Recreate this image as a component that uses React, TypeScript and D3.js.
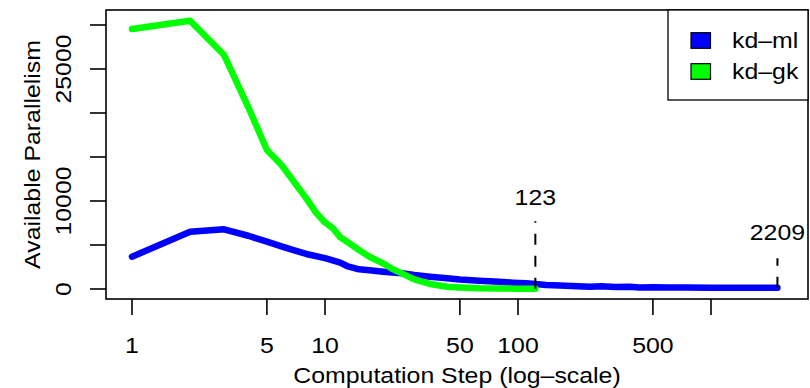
import React, { useEffect, useRef } from "react";
import * as d3 from "d3";

// kd-ml series (step, available parallelism)
const mlSteps = [1, 2, 3, 4, 5, 6, 7, 8, 10, 12, 13, 15, 17, 20, 25, 29, 35, 43, 50, 63, 80, 94, 110, 123, 140, 165, 190, 236, 270, 320, 380, 425, 500, 600, 750, 1000, 1500, 2209];
const mlValues = [3670, 6510, 6780, 6050, 5380, 4810, 4350, 3980, 3500, 2990, 2610, 2240, 2120, 1970, 1780, 1590, 1400, 1210, 1080, 940, 820, 720, 640, 570, 450, 400, 330, 260, 300, 220, 260, 180, 200, 170, 160, 150, 150, 150];

// kd-gk series
const gkSteps = [1, 2, 3, 4, 5, 6, 7, 8, 9, 10, 11, 12, 13, 15, 17, 20, 22, 25, 29, 35, 43, 50, 63, 80, 100, 123];
const gkValues = [29545, 30490, 26590, 20680, 15800, 14000, 12000, 10300, 8650, 7560, 6900, 5870, 5380, 4430, 3670, 2920, 2350, 1780, 1100, 570, 260, 180, 80, 50, 40, 30];

const seriesNames = ["kd\u2013ml", "kd\u2013gk"];
const seriesColors = ["#0000ff", "#00ff00"];

const xTicks = [1, 5, 10, 50, 100, 500, 1000];
const xTickLabels = ["1", "5", "10", "50", "100", "500", ""];
const yTicks = [0, 5000, 10000, 15000, 20000, 25000, 30000];
const yTickLabels = ["0", "", "10000", "", "", "25000", ""];

// end-of-run markers: step, label height, top of dashed line
const markSteps = [123, 2209];
const markLabelValues = [10400, 6500];
const markLineTops = [7700, 3500];

const App: React.FC = () => {
  const svgRef = useRef<SVGSVGElement | null>(null);

  useEffect(() => {
    const svg = d3.select(svgRef.current);
    svg.selectAll("*").remove();

    const w = 810;
    const h = 388;
    const box = { left: 106, right: 808, top: 10, bottom: 299 };
    const font = "'Liberation Sans', Arial, Helvetica, sans-serif";
    const fs = 22;
    const sx = 1.13;

    svg.attr("width", w).attr("height", h).style("background", "#fff");

    const x = d3.scaleLog().domain([1, 1000]).range([132, 711]);
    const y = d3.scaleLinear().domain([0, 30000]).range([289, 25]);

    const addText = (px: number, py: number, str: string, rot: number, anchor: string) => {
      svg
        .append("g")
        .attr("transform", `translate(${px},${py}) rotate(${rot})`)
        .append("text")
        .attr("transform", `scale(${sx},1)`)
        .attr("text-anchor", anchor)
        .style("font-family", font)
        .style("font-size", `${fs}px`)
        .attr("fill", "#000")
        .text(str);
    };

    // lines
    const line = d3
      .line<[number, number]>()
      .x(d => x(d[0]))
      .y(d => y(d[1]));

    const series: [number, number][][] = [
      mlSteps.map((s, i) => [s, mlValues[i]]),
      gkSteps.map((s, i) => [s, gkValues[i]]),
    ];

    series.forEach((pts, i) => {
      svg
        .append("path")
        .attr("d", line(pts)!)
        .attr("fill", "none")
        .attr("stroke", seriesColors[i])
        .attr("stroke-width", 6.5)
        .attr("stroke-linecap", "round")
        .attr("stroke-linejoin", "round");
    });

    // dashed markers
    const ends = [gkValues[gkValues.length - 1], mlValues[mlValues.length - 1]];
    markSteps.forEach((s, i) => {
      svg
        .append("line")
        .attr("x1", x(s))
        .attr("x2", x(s))
        .attr("y1", y(ends[i]))
        .attr("y2", y(markLineTops[i]))
        .attr("stroke", "#000")
        .attr("stroke-width", 2)
        .attr("stroke-dasharray", "11,11");
      addText(x(s), y(markLabelValues[i]) + 8, String(s), 0, "middle");
    });

    // box
    svg
      .append("rect")
      .attr("x", box.left)
      .attr("y", box.top)
      .attr("width", box.right - box.left)
      .attr("height", box.bottom - box.top)
      .attr("fill", "none")
      .attr("stroke", "#000")
      .attr("stroke-width", 1.6);

    // x axis
    const tick = 16;
    xTicks.forEach((t, i) => {
      svg
        .append("line")
        .attr("x1", x(t))
        .attr("x2", x(t))
        .attr("y1", box.bottom)
        .attr("y2", box.bottom + tick)
        .attr("stroke", "#000")
        .attr("stroke-width", 1.6);
      if (xTickLabels[i]) addText(x(t), 353, xTickLabels[i], 0, "middle");
    });

    // y axis
    yTicks.forEach((t, i) => {
      svg
        .append("line")
        .attr("x1", box.left - tick)
        .attr("x2", box.left)
        .attr("y1", y(t))
        .attr("y2", y(t))
        .attr("stroke", "#000")
        .attr("stroke-width", 1.6);
      if (yTickLabels[i]) addText(71, y(t), yTickLabels[i], -90, "middle");
    });

    // axis titles
    addText((box.left + box.right) / 2, 383, "Computation Step (log\u2013scale)", 0, "middle");
    addText(40, (box.top + box.bottom) / 2, "Available Parallelism", -90, "middle");

    // legend
    svg
      .append("rect")
      .attr("x", 668)
      .attr("y", box.top)
      .attr("width", box.right - 668)
      .attr("height", 90)
      .attr("fill", "#fff")
      .attr("stroke", "#000")
      .attr("stroke-width", 1.3);

    seriesNames.forEach((name, i) => {
      const cy = 40.5 + i * 31;
      svg
        .append("rect")
        .attr("x", 691)
        .attr("y", cy - 7.8)
        .attr("width", 19.5)
        .attr("height", 15.6)
        .attr("fill", seriesColors[i])
        .attr("stroke", "#000")
        .attr("stroke-width", 1.2);
      addText(732, cy + 7.8, name, 0, "start");
    });
  }, []);

  return (
    <div style={{ position: "absolute", left: 0, top: 0, width: 810, height: 388 }}>
      <svg ref={svgRef}></svg>
    </div>
  );
};

export default App;
